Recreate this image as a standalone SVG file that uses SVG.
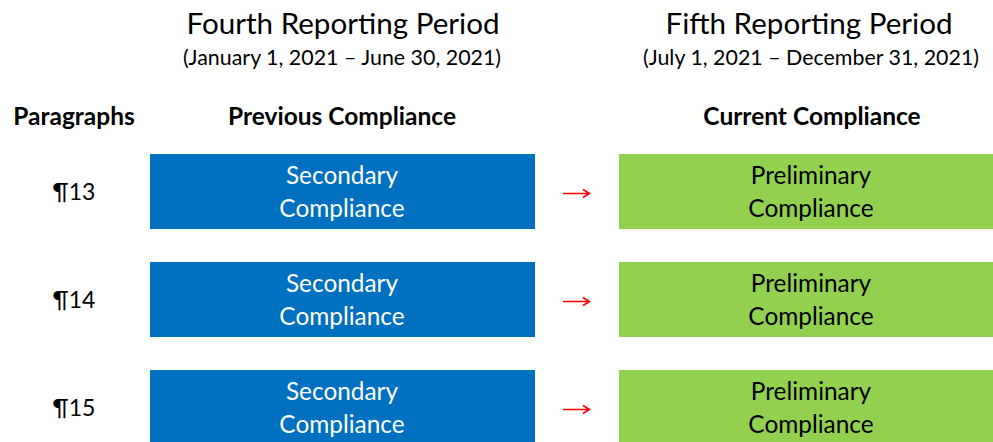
<svg xmlns="http://www.w3.org/2000/svg" width="993" height="442" viewBox="0 0 993 442">
<style>
text{font-family:Lato,"Open Sans","Liberation Sans",sans-serif;text-anchor:middle;}
.h{font-size:29.6px;fill:#000;}
.s{font-size:21.4px;fill:#000;}
.b{font-size:24.5px;font-weight:bold;fill:#000;}
.p{font-size:23px;fill:#000;}
.bl{fill:#0070C0;}
.gr{fill:#92D050;}
.wt{font-size:24.4px;fill:#fff;}
.kt{font-size:24.4px;fill:#000;}
.ar{fill:none;stroke:#FF0000;stroke-width:1.6;}
</style>
<g id="headers">
<text class="h" x="343" y="34">Fourth Reporting Period</text>
<text class="s" x="342" y="65">(January 1, 2021 – June 30, 2021)</text>
<text class="h" x="809" y="34">Fifth Reporting Period</text>
<text class="s" x="811" y="65">(July 1, 2021 – December 31, 2021)</text>
<text class="b" x="74" y="125">Paragraphs</text>
<text class="b" x="342" y="125">Previous Compliance</text>
<text class="b" x="812" y="125">Current Compliance</text>
</g>
<g id="row13">
<text class="p" x="74" y="200">¶13</text>
<g id="prev13"><rect class="bl" x="150" y="154" width="385" height="75"/><text class="wt" x="342" y="184">Secondary</text><text class="wt" x="342" y="217">Compliance</text></g>
<g id="cur13"><rect class="gr" x="619" y="154" width="385" height="75"/><text class="kt" x="811" y="184">Preliminary</text><text class="kt" x="811" y="217">Compliance</text></g>
</g>
<g id="row14">
<text class="p" x="74" y="308">¶14</text>
<g id="prev14"><rect class="bl" x="150" y="262" width="385" height="75"/><text class="wt" x="342" y="292">Secondary</text><text class="wt" x="342" y="325">Compliance</text></g>
<g id="cur14"><rect class="gr" x="619" y="262" width="385" height="75"/><text class="kt" x="811" y="292">Preliminary</text><text class="kt" x="811" y="325">Compliance</text></g>
</g>
<g id="row15">
<text class="p" x="74" y="416">¶15</text>
<g id="prev15"><rect class="bl" x="150" y="370" width="385" height="75"/><text class="wt" x="342" y="400">Secondary</text><text class="wt" x="342" y="433">Compliance</text></g>
<g id="cur15"><rect class="gr" x="619" y="370" width="385" height="75"/><text class="kt" x="811" y="400">Preliminary</text><text class="kt" x="811" y="433">Compliance</text></g>
</g>
<g id="connectors">
<path class="ar" d="M563 193.5H589M583 189.5L589.5 193.5L583 197.5"/>
<path class="ar" d="M563 301.5H589M583 297.5L589.5 301.5L583 305.5"/>
<path class="ar" d="M563 409.5H589M583 405.5L589.5 409.5L583 413.5"/>
</g>
</svg>
